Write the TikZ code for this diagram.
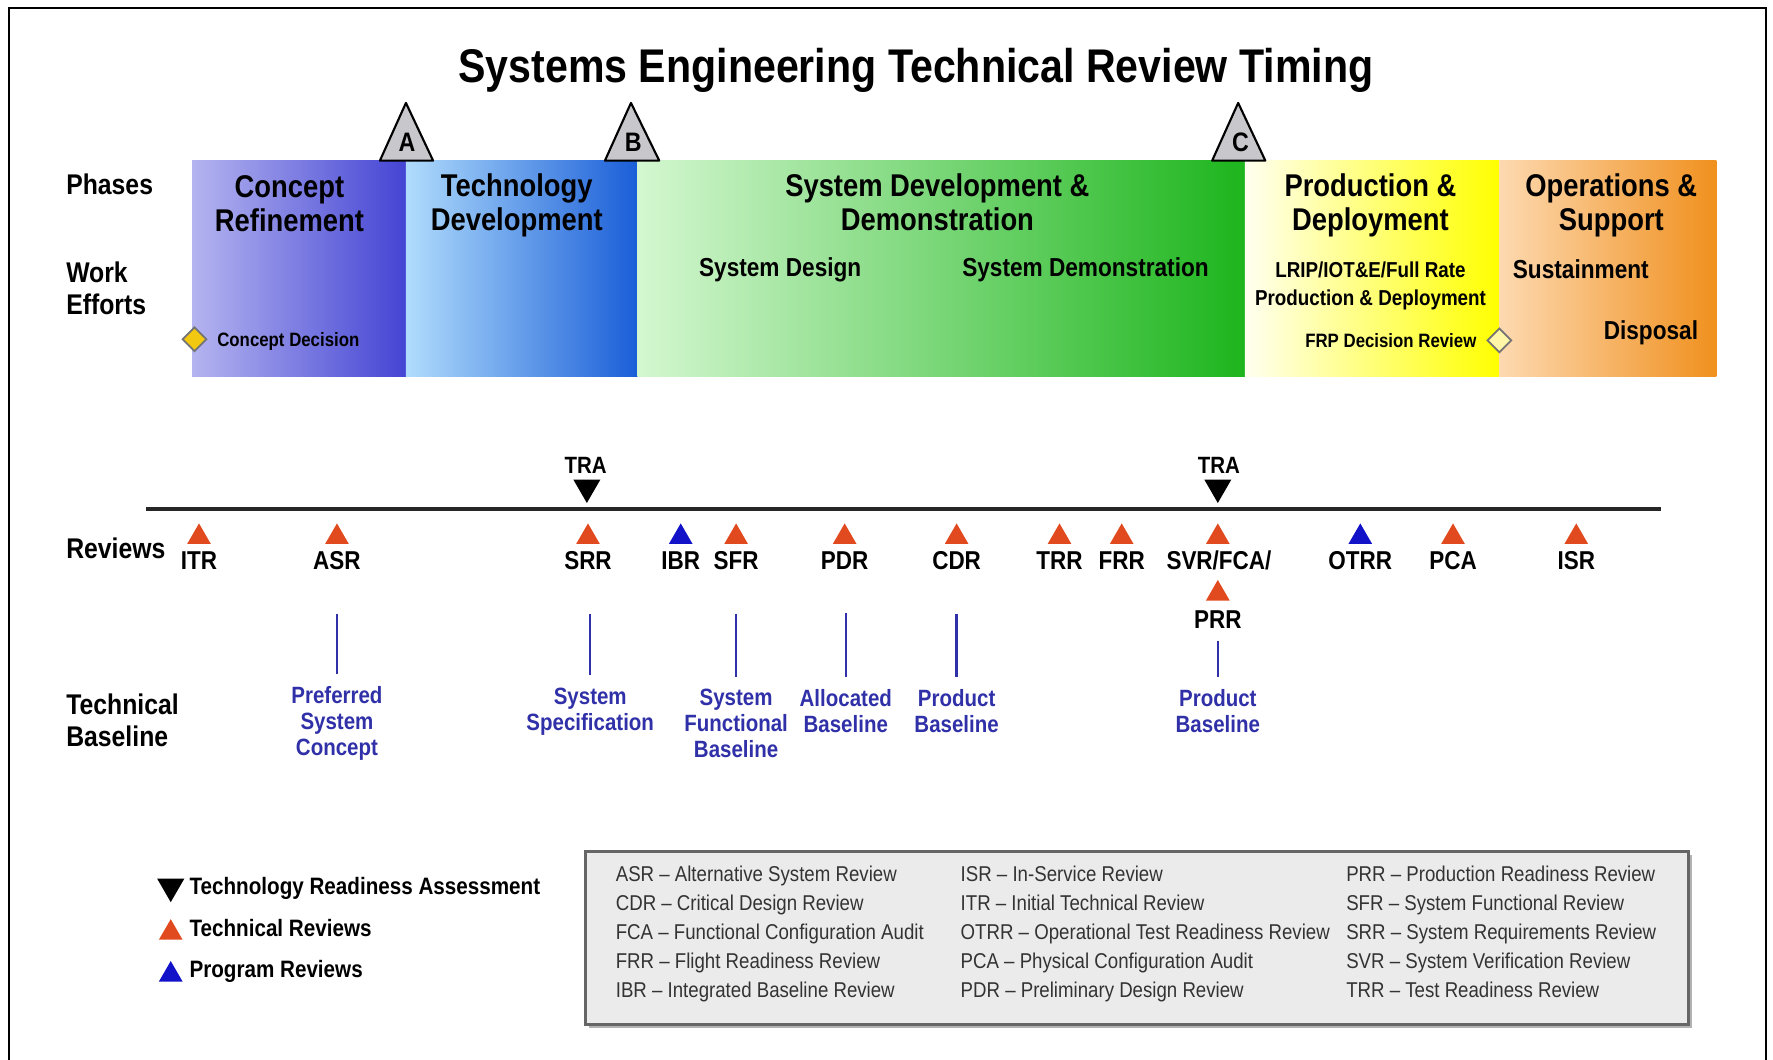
\documentclass[tikz,border=0pt]{standalone}
\usepackage{fontspec}
\setmainfont{Liberation Sans}[FakeStretch=0.87]
\usetikzlibrary{shapes.geometric}

\definecolor{crleft}{HTML}{B4B4F0}
\definecolor{crright}{HTML}{4444D4}
\definecolor{tdleft}{HTML}{B0DCFC}
\definecolor{tdright}{HTML}{1A5ED8}
\definecolor{sddleft}{HTML}{D4F7D0}
\definecolor{sddright}{HTML}{1DB51D}
\definecolor{pdleft}{HTML}{FFFFF0}
\definecolor{pdright}{HTML}{FFFF00}
\definecolor{osleft}{HTML}{FDD9B0}
\definecolor{osright}{HTML}{F0901E}
\definecolor{revred}{HTML}{E04A1E}
\definecolor{progblue}{HTML}{1212C8}
\definecolor{baseblue}{HTML}{3030A8}
\definecolor{keygray}{HTML}{EBEBEB}
\definecolor{msgray}{HTML}{C8C8CC}
\definecolor{cdyellow}{HTML}{F2C811}
\definecolor{frpyellow}{HTML}{FFF6A8}

\newcommand{\fsz}[2]{\fontsize{#1}{#2}\selectfont}

\begin{document}
\begin{tikzpicture}[x=0.011307cm, y=-0.011307cm, inner sep=0pt]
	\tikzstyle{phasetitle}=[align=center, font=\bfseries\fsz{8.95}{9.7}]
	\tikzstyle{effort}=[align=center, font=\bfseries\fsz{7.4}{8.1}]
	\tikzstyle{smalleffort}=[align=center, font=\bfseries\fsz{5.5}{6}]
	\tikzstyle{sidelbl}=[anchor=west, align=left, font=\bfseries\fsz{8.1}{9}]
	\tikzstyle{mstone}=[draw=black, fill=msgray, line width=.6pt, line join=round]
	\tikzstyle{mslbl}=[font=\bfseries\fsz{7.6}{8}]
	\tikzstyle{revtri}=[regular polygon, regular polygon sides=3, minimum size=7.8pt]
	\tikzstyle{techrev}=[revtri, fill=revred]
	\tikzstyle{progrev}=[revtri, fill=progblue]
	\tikzstyle{trarev}=[revtri, fill=black, shape border rotate=180, minimum size=8.9pt]
	\tikzstyle{revlbl}=[font=\bfseries\fsz{7.35}{8}]
	\tikzstyle{tralbl}=[font=\bfseries\fsz{6.7}{7}]
	\tikzstyle{baselbl}=[align=center, text=baseblue, font=\bfseries\fsz{6.7}{7.4}]
	\tikzstyle{bline}=[draw=baseblue, line width=.7pt, shorten <=12.2pt, shorten >=3.3pt]
	\tikzstyle{decision}=[diamond, draw=black!55, line width=.5pt, minimum size=7pt]
	\tikzstyle{keytxt}=[anchor=west, font=\bfseries\fsz{6.75}{7}]
	\tikzstyle{abbr}=[anchor=west, align=left, text=black!80, font=\fsz{6.1}{8.2}]
	\useasboundingbox (0,0) rectangle (1568,937);
	\draw[line width=.7pt] (8,937) -- (8,7) -- (1562,7) -- (1562,937);

	\node[font=\bfseries\fsz{13.45}{15}] (title) at (810,62) {Systems Engineering Technical Review Timing};

	\shade[left color=crleft, right color=crright] (170,142) rectangle (359,333);
	\shade[left color=tdleft, right color=tdright] (359,142) rectangle (564,333);
	\shade[left color=sddleft, right color=sddright] (564,142) rectangle (1101,333);
	\shade[left color=pdleft, right color=pdright] (1101,142) rectangle (1326,333);
	\shade[left color=osleft, right color=osright] (1326,142) rectangle (1518,333);

	\draw[mstone] (359,91) -- (383,142) -- (336,142) -- cycle;
	\node[mslbl] (msa) at (360,126) {A};
	\draw[mstone] (558,91) -- (583,142) -- (535,142) -- cycle;
	\node[mslbl] (msb) at (560,126) {B};
	\draw[mstone] (1095,91) -- (1119,142) -- (1072,142) -- cycle;
	\node[mslbl] (msc) at (1097,126) {C};

	\node[phasetitle] (cr) at (256,180) {Concept\\Refinement};
	\node[phasetitle] (td) at (457,182) {Technology\\Development};
	\node[phasetitle] (sdd) at (829,179) {System Development \&\\Demonstration};
	\node[phasetitle] (pd) at (1212,182) {Production \&\\Deployment};
	\node[phasetitle] (os) at (1425,182) {Operations \&\\Support};

	\node[effort] (sysdes) at (690,239) {System Design};
	\node[effort] (sysdem) at (960,239) {System Demonstration};
	\node[effort, font=\bfseries\fsz{6.15}{8}] (lrip) at (1212,253) {LRIP/IOT\&E/Full Rate\\Production \& Deployment};
	\node[effort] (sust) at (1398,238) {Sustainment};
	\node[effort] (disp) at (1460,294) {Disposal};
	\node[smalleffort] (cdtxt) at (255,302) {Concept Decision};
	\node[smalleffort] (frptxt) at (1230,301) {FRP Decision Review};
	\node[decision, fill=cdyellow] (cd) at (172,300) {};
	\node[decision, fill=frpyellow] (frp) at (1326,301) {};

	\node[sidelbl] (phases) at (58,163) {Phases};
	\node[sidelbl] (work) at (58,255) {Work\\Efforts};
	\node[sidelbl] (reviews) at (58,485) {Reviews};
	\node[sidelbl] (techbase) at (58,637) {Technical\\Baseline};

	\coordinate (tlstart) at (129,450);
	\coordinate (tlend) at (1469,450);
	\draw[line width=1.3pt, black!85] (tlstart) -- (tlend);

	\node[trarev] (tra1) at (519,431) {};
	\node[tralbl] (tra1lbl) at (518,412) {TRA};
	\node[trarev] (tra2) at (1077,431) {};
	\node[tralbl] (tra2lbl) at (1078,412) {TRA};

	\node[techrev] (itrt) at (176,475) {};
	\node[revlbl] (itr) at (176,496) {ITR};
	\node[techrev] (asrt) at (298,475) {};
	\node[revlbl] (asr) at (298,496) {ASR};
	\node[techrev] (srrt) at (520,475) {};
	\node[revlbl] (srr) at (520,496) {SRR};
	\node[progrev] (ibrt) at (602,475) {};
	\node[revlbl] (ibr) at (602,496) {IBR};
	\node[techrev] (sfrt) at (651,475) {};
	\node[revlbl] (sfr) at (651,496) {SFR};
	\node[techrev] (pdrt) at (747,475) {};
	\node[revlbl] (pdr) at (747,496) {PDR};
	\node[techrev] (cdrt) at (846,475) {};
	\node[revlbl] (cdr) at (846,496) {CDR};
	\node[techrev] (trrt) at (937,475) {};
	\node[revlbl] (trr) at (937,496) {TRR};
	\node[techrev] (frrt) at (992,475) {};
	\node[revlbl] (frr) at (992,496) {FRR};
	\node[techrev] (svrt) at (1077,475) {};
	\node[revlbl] (svr) at (1078,496) {SVR/FCA/};
	\node[techrev] (prrt) at (1077,525) {};
	\node[revlbl] (prr) at (1077,548) {PRR};
	\node[progrev] (otrrt) at (1203,475) {};
	\node[revlbl] (otrr) at (1203,496) {OTRR};
	\node[techrev] (pcat) at (1285,475) {};
	\node[revlbl] (pca) at (1285,496) {PCA};
	\node[techrev] (isrt) at (1394,475) {};
	\node[revlbl] (isr) at (1394,496) {ISR};

	\node[baselbl] (psc) at (298,640) {Preferred\\System\\Concept};
	\node[baselbl] (sspec) at (522,629) {System\\Specification};
	\node[baselbl] (sfb) at (651,640) {System\\Functional\\Baseline};
	\node[baselbl] (alb) at (748,629) {Allocated\\Baseline};
	\node[baselbl] (pb1) at (846,629) {Product\\Baseline};
	\node[baselbl] (pb2) at (1077,629) {Product\\Baseline};

	\draw[bline] (psc.north |- asr.south) -- (psc.north);
	\draw[bline] (sspec.north |- srr.south) -- (sspec.north);
	\draw[bline] (sfb.north |- sfr.south) -- (sfb.north);
	\draw[bline] (alb.north |- pdr.south) -- (alb.north);
	\draw[bline] (pb1.north |- cdr.south) -- (pb1.north);
	\draw[bline, shorten <=3.2pt] (pb2.north |- prr.south) -- (pb2.north);

	\node[trarev] (keytra) at (151,784) {};
	\node[keytxt] (keytratxt) at (167,786) {Technology Readiness Assessment};
	\node[techrev] (keytech) at (151,825) {};
	\node[keytxt] (keytechtxt) at (167,821) {Technical Reviews};
	\node[progrev] (keyprog) at (151,862) {};
	\node[keytxt] (keyprogtxt) at (167,859) {Program Reviews};

	\fill[black!30] (521,756) rectangle (1496,909);
	\draw[fill=keygray, draw=black!60, line width=.9pt] (518,753) rectangle (1493,906);
	\node[abbr] (abbrone) at (544,826) {ASR -- Alternative System Review\\CDR -- Critical Design Review\\FCA -- Functional Configuration Audit\\FRR -- Flight Readiness Review\\IBR -- Integrated Baseline Review};
	\node[abbr] (abbrtwo) at (849,826) {ISR -- In-Service Review\\ITR -- Initial Technical Review\\OTRR -- Operational Test Readiness Review\\PCA -- Physical Configuration Audit\\PDR -- Preliminary Design Review};
	\node[abbr] (abbrthree) at (1190,824) {PRR -- Production Readiness Review\\SFR -- System Functional Review\\SRR -- System Requirements Review\\SVR -- System Verification Review\\TRR -- Test Readiness Review};
\end{tikzpicture}
\end{document}
